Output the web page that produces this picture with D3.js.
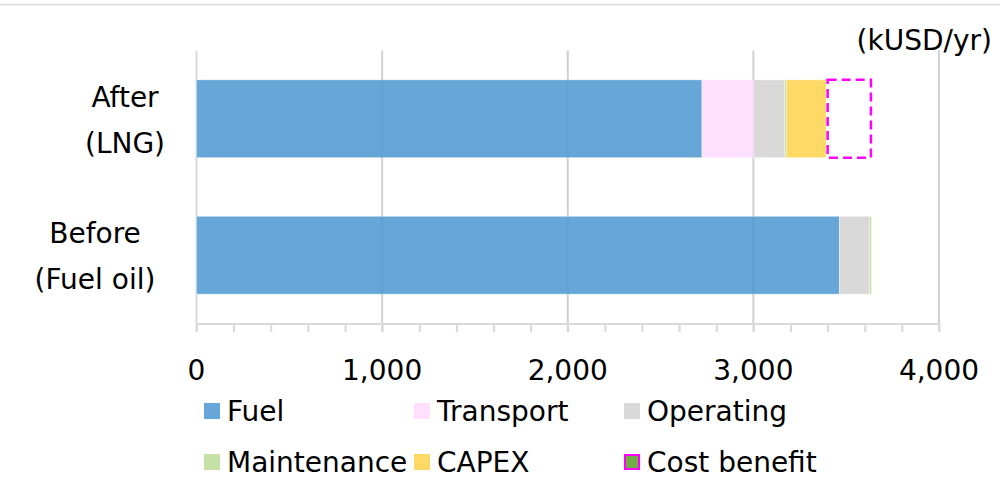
<!DOCTYPE html>
<html>
<head>
<meta charset="utf-8">
<script src="https://cdn.jsdelivr.net/npm/d3@7/dist/d3.min.js"></script>
<style>
  html, body { margin: 0; padding: 0; background: #fff; }
  svg { display: block; }
  text { font-family: "DejaVu Sans", Verdana, sans-serif; fill: #000; }
</style>
</head>
<body>
<script>
// ---- Data (kUSD/yr) ----
const categories = ["After (LNG)", "Before (Fuel oil)"];
const categoryLines = [["After", "(LNG)"], ["Before", "(Fuel oil)"]];
const seriesNames = ["Fuel", "Transport", "Operating", "Maintenance", "CAPEX", "Cost benefit"];
const fuel        = [2723, 3464];
const transport   = [280, 0];
const operating   = [165, 161];
const maintenance = [10, 11];
const capex       = [214, 0];
const costBenefit = [244, 0];
const xTicks = [0, 1000, 2000, 3000, 4000];
const unitLabel = "(kUSD/yr)";

// ---- Layout / style ----
const W = 1000, H = 496;
const colors = {
  "Fuel": "#66a7d8",
  "Transport": "#ffe0fe",
  "Operating": "#d9d9d9",
  "Maintenance": "#c5e1a5",
  "CAPEX": "#ffd966",
  "Cost benefit": "#70ad47"
};
const fontSize = 28;

const svg = d3.select("body").append("svg").attr("width", W).attr("height", H);

// top border line
svg.append("line").attr("x1", 0).attr("x2", W).attr("y1", 4.5).attr("y2", 4.5)
  .attr("stroke", "#d9d9d9").attr("stroke-width", 1.5);

const x = d3.scaleLinear().domain([0, 4000]).range([196.5, 939]);
const y = d3.scaleBand().domain(categories).range([50.5, 323.5])
  .paddingInner(0.43).paddingOuter(0.215);

// gridlines (major)
svg.append("g").selectAll("line").data(xTicks).join("line")
  .attr("x1", d => x(d)).attr("x2", d => x(d))
  .attr("y1", 50.5).attr("y2", 332)
  .attr("stroke", "#d9d9d9").attr("stroke-width", 2);

// stacked data
const table = categories.map((c, i) => ({
  cat: c,
  "Fuel": fuel[i], "Transport": transport[i], "Operating": operating[i],
  "Maintenance": maintenance[i], "CAPEX": capex[i], "Cost benefit": costBenefit[i]
}));
const stack = d3.stack().keys(seriesNames)(table);

stack.forEach(layer => {
  const key = layer.key;
  const sel = svg.append("g").selectAll("rect").data(layer.filter(d => d[1] - d[0] > 0)).join("rect")
    .attr("x", d => x(d[0]))
    .attr("width", d => x(d[1]) - x(d[0]))
    .attr("y", d => y(d.data.cat))
    .attr("height", y.bandwidth());
  if (key === "Cost benefit") {
    sel.attr("x", d => x(d[0]) + 1.5)
      .attr("width", d => x(d[1]) - x(d[0]) - 2)
      .attr("fill", "none").attr("stroke", "#ff00ff")
      .attr("stroke-width", 2.5).attr("stroke-dasharray", "9,5");
  } else {
    sel.attr("fill", colors[key]).attr("stroke", "rgba(255,255,255,0.35)").attr("stroke-width", 1);
  }
});

// faint gridlines through the bars (as in reference)
svg.append("g").selectAll("line").data(xTicks.filter(d => d > 0)).join("line")
  .attr("x1", d => x(d)).attr("x2", d => x(d))
  .attr("y1", 50.5).attr("y2", 323.5)
  .attr("stroke", "#000").attr("stroke-opacity", 0.04).attr("stroke-width", 2);

// axis line + ticks
const axis = d3.axisBottom(x).tickValues(d3.range(0, 4001, 200)).tickSize(8).tickFormat("");
const ax = svg.append("g").attr("transform", "translate(0,324)").call(axis);
ax.select(".domain").attr("stroke", "#d9d9d9").attr("stroke-width", 2).attr("d", `M${x(0)},0H${x(4000)}`);
ax.selectAll(".tick line").attr("stroke", "#d9d9d9").attr("stroke-width", 2);

// tick labels
svg.append("g").selectAll("text").data(xTicks).join("text")
  .attr("x", d => x(d)).attr("y", 380)
  .attr("text-anchor", "middle").attr("font-size", fontSize)
  .text(d => d3.format(",")(d));

// unit label
svg.append("text").attr("x", 992).attr("y", 50).attr("text-anchor", "end")
  .attr("font-size", fontSize).text(unitLabel);

// category labels
const labelCenters = [125, 95];
categories.forEach((c, i) => {
  const cy = y(c) + y.bandwidth() / 2;
  const t = svg.append("text").attr("text-anchor", "middle").attr("font-size", fontSize);
  categoryLines[i].forEach((ln, j) => {
    t.append("tspan").attr("x", labelCenters[i])
      .attr("y", cy - 12 + j * 46).text(ln);
  });
});

// legend
const legendCols = [204, 414, 624];
const legendRows = [411, 462];
seriesNames.forEach((name, i) => {
  const lx = legendCols[i % 3], ly = legendRows[Math.floor(i / 3)];
  const lg = svg.append("g");
  if (name === "Cost benefit") {
    lg.append("rect").attr("x", lx + 1).attr("y", ly - 7).attr("width", 14).attr("height", 14)
      .attr("fill", colors[name]).attr("stroke", "#ff00ff").attr("stroke-width", 2);
  } else {
    lg.append("rect").attr("x", lx).attr("y", ly - 8).attr("width", 16).attr("height", 16)
      .attr("fill", colors[name]);
  }
  lg.append("text").attr("x", lx + 23).attr("y", ly + 10).attr("font-size", fontSize).text(name);
});
</script>
</body>
</html>
